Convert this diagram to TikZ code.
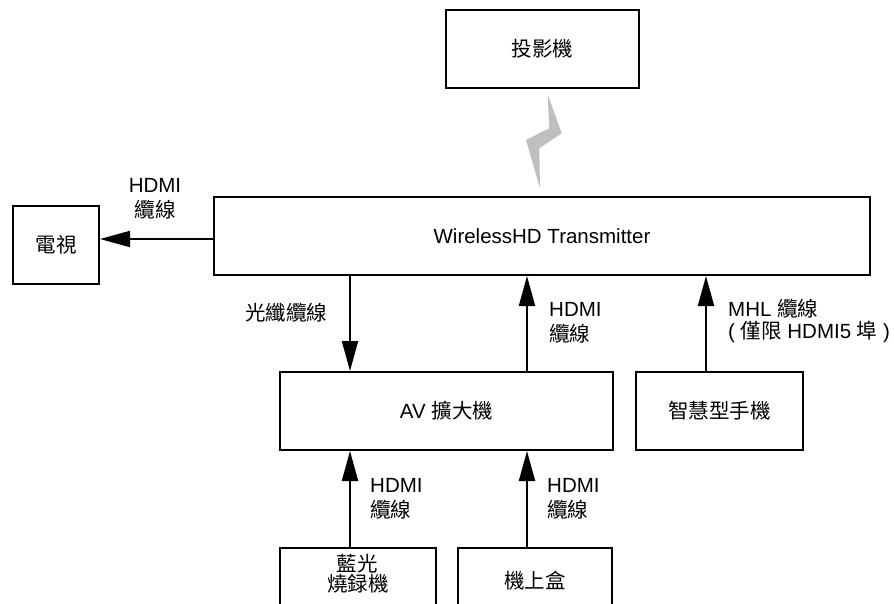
\documentclass[tikz,border=0pt]{standalone}
\usepackage{fontspec}
\setmainfont{Liberation Sans}
\newfontfamily\cjk{Noto Sans CJK TC}
\usetikzlibrary{arrows.meta}
\definecolor{boltgray}{RGB}{190,191,193}
\newcommand\dgfont{\fontsize{20.5}{25}\selectfont}
\begin{document}
\begin{tikzpicture}[x=1pt,y=-1pt,
  box/.style={draw, line width=2pt, inner sep=0pt, font=\dgfont, minimum height=78pt},
  lbl/.style={inner sep=0pt, font=\dgfont},
  arr/.style={line width=2pt, -{Triangle[length=30pt,width=16pt]}}]
\useasboundingbox (0,0) rectangle (894,604);
\clip (0,0) rectangle (894,604);
% boxes
\node[box, minimum width=193pt] (proj) at (542.5,49) {\cjk 投影機};
\node[box, minimum width=656pt] (wh) at (542,236) {WirelessHD Transmitter};
\node[box, minimum width=86pt] (tv) at (56,245) {\cjk 電視};
\node[box, minimum width=333pt] (av) at (446.5,411) {AV {\cjk 擴大機}};
\node[box, minimum width=167pt] (phone) at (719.5,411) {\cjk 智慧型手機};
\node[box, minimum width=156pt] (blu) at (358,587) {};
\node[box, minimum width=154pt] (stb) at (535,587) {};
% texts of the bottom boxes
\node[lbl, anchor=base] (blut1) at (357,571) {\cjk 藍光};
\node[lbl, anchor=base] (blut2) at (358,591) {\cjk 燒録機};
\node[lbl, anchor=base] (stbt) at (535,588) {\cjk 機上盒};
% wireless bolt
\fill[boltgray] (547.7,94.3) -- (561.7,133.3) -- (539.3,148.3) -- (540,188.3)
  -- (526,140) -- (549.3,128.3) -- cycle;
% connectors
\draw[arr] (wh.west |- 0,239) -- (tv.east |- 0,239);
\draw[arr] (wh.south -| 350,0) -- (av.north -| 350,0);
\draw[arr] (av.north -| 527,0) -- (wh.south -| 527,0);
\draw[arr] (phone.north -| 706,0) -- (wh.south -| 706,0);
\draw[arr] (blu.north -| 350,0) -- (av.south -| 350,0);
\draw[arr] (stb.north -| 527,0) -- (av.south -| 527,0);
% labels
\node[lbl, anchor=base] (tvl1) at (155,192.5) {HDMI};
\node[lbl, anchor=base] (tvl2) at (155,217.5) {\cjk 纜線};
\node[lbl, anchor=base west] (fib) at (245,320) {\cjk 光纖纜線};
\node[lbl, anchor=base west] (ml1) at (549,316) {HDMI};
\node[lbl, anchor=base west] (ml2) at (549,341) {\cjk 纜線};
\node[lbl, anchor=base west] (mhl1) at (728,316.5) {MHL {\cjk 纜線}};
\node[lbl, anchor=base west] (mhl2) at (728,338.5) {( {\cjk 僅限} HDMI5 {\cjk 埠} )};
\node[lbl, anchor=base west] (bl1) at (370,492) {HDMI};
\node[lbl, anchor=base west] (bl2) at (370,517) {\cjk 纜線};
\node[lbl, anchor=base west] (br1) at (547,492) {HDMI};
\node[lbl, anchor=base west] (br2) at (547,517) {\cjk 纜線};
\end{tikzpicture}
\end{document}
